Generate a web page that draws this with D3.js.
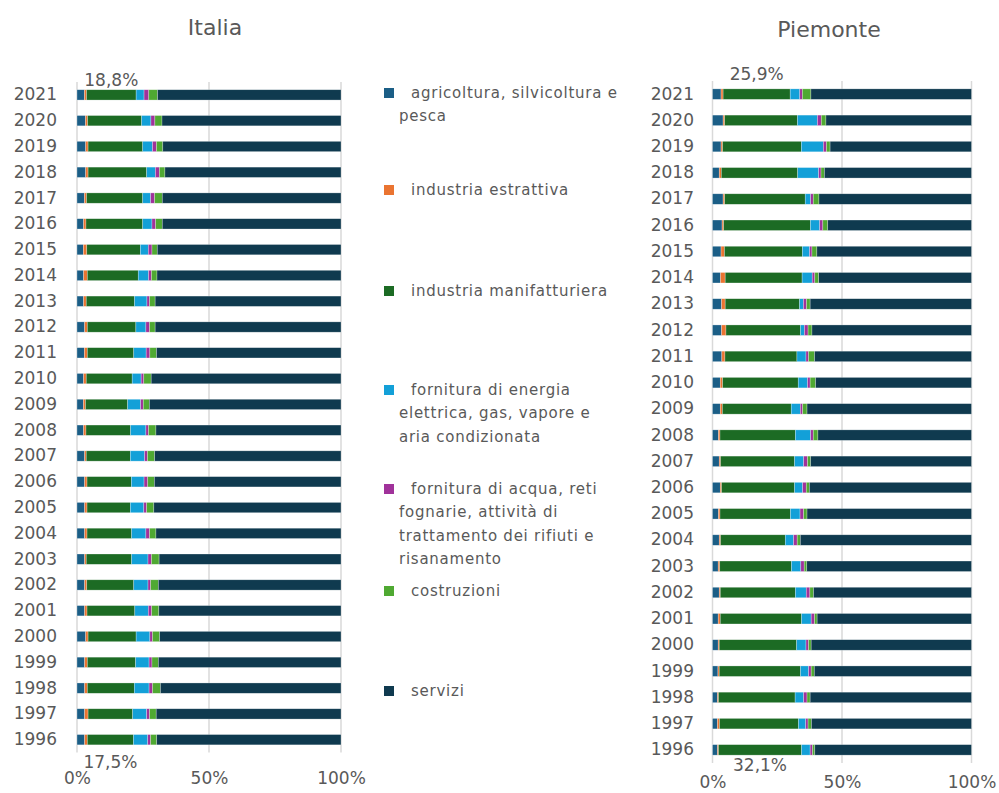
<!DOCTYPE html>
<html>
<head>
<meta charset="utf-8">
<script src="https://cdn.jsdelivr.net/npm/d3@7"></script>
<style>
  html, body { margin: 0; padding: 0; background: #fff; }
  svg { display: block; font-family: "DejaVu Sans", sans-serif; }
</style>
</head>
<body>
<svg id="chart" width="999" height="793"></svg>
<script>
// Value added by sector, share of total (%), 1996-2021
const years = [1996,1997,1998,1999,2000,2001,2002,2003,2004,2005,2006,2007,2008,
               2009,2010,2011,2012,2013,2014,2015,2016,2017,2018,2019,2020,2021];

const sectorNames = [
  "agricoltura, silvicoltura e pesca",
  "industria estrattiva",
  "industria manifatturiera",
  "fornitura di energia elettrica, gas, vapore e aria condizionata",
  "fornitura di acqua, reti fognarie, attività di trattamento dei rifiuti e risanamento",
  "costruzioni",
  "servizi"
];
const sectorColors = ["#1b5e86", "#ea7431", "#1c6b24", "#13a0d8", "#a0329a", "#4fa932", "#0f3a4f"];

// Italia
const itaAgri   = [2.9,2.9,2.9,2.9,3.3,2.9,2.9,2.9,2.9,2.9,2.9,2.9,2.5,2.4,2.5,2.8,2.9,2.5,2.5,2.4,2.5,2.8,3.3,3.3,3.2,2.8];
const itaEstr   = [1.0,1.3,1.0,1.0,0.9,0.9,0.8,0.6,0.9,0.9,0.9,0.6,0.9,0.8,1.0,1.1,1.0,1.0,1.4,1.3,0.9,0.8,0.9,0.9,0.8,0.8];
const itaManif  = [17.5,16.9,17.8,18.3,18.2,18.1,17.8,17.2,16.9,16.4,16.8,16.7,16.9,16.0,17.4,17.6,18.4,18.3,19.3,20.3,21.5,21.3,22.2,20.7,20.5,18.8];
const itaEnerg  = [5.4,5.3,5.6,5.1,5.2,5.1,5.4,6.2,5.4,5.1,4.8,5.4,5.8,4.9,3.4,4.7,3.8,4.7,3.9,3.0,3.5,3.0,3.3,3.7,3.5,3.0];
const itaAcqua  = [1.1,1.1,1.3,1.1,1.0,1.3,1.0,1.3,1.4,1.1,1.4,1.1,1.0,1.0,1.0,1.4,1.4,1.0,1.1,1.4,1.4,1.5,1.5,1.5,1.5,1.8];
const itaCostr  = [2.3,2.5,3.0,2.4,2.7,2.7,2.9,2.9,2.4,2.7,2.5,2.7,2.8,2.3,2.8,2.5,2.1,2.1,2.1,2.0,2.5,2.9,2.1,2.4,2.7,3.3];
const itaServ   = [69.8,70.0,68.4,69.2,68.7,69.0,69.2,68.9,70.1,70.9,70.7,70.6,70.1,72.6,71.9,69.9,70.4,70.4,69.7,69.6,67.7,67.7,66.7,67.5,67.8,69.5];

// Piemonte
const pieAgri   = [1.9,1.9,1.9,2.1,2.2,2.2,2.6,2.2,2.6,2.3,3.0,2.6,2.3,3.0,3.0,3.6,3.5,3.5,3.1,3.3,3.7,4.1,2.6,3.3,4.1,3.3];
const pieEstr   = [0.4,0.8,0.4,0.5,0.4,0.8,0.4,0.6,0.5,0.6,0.5,0.5,0.6,0.8,0.9,1.2,1.7,1.4,1.8,1.3,0.6,0.6,0.8,0.6,0.6,0.8];
const pieManif  = [32.1,30.5,29.6,31.4,29.9,31.4,29.0,27.7,25.0,27.2,28.2,28.6,29.1,26.6,29.2,27.8,28.8,28.7,29.7,30.1,33.5,31.1,29.5,30.4,28.1,25.9];
const pieEnerg  = [3.3,2.8,3.3,3.1,3.6,3.7,4.2,3.6,3.2,3.7,3.1,3.5,5.9,3.5,3.6,3.5,1.5,1.5,3.9,2.8,3.6,2.1,8.1,8.5,7.7,3.7];
const pieAcqua  = [0.9,0.9,1.3,1.0,1.0,1.3,1.4,1.3,1.4,1.4,1.4,1.5,1.0,0.9,1.0,1.0,1.4,1.2,1.0,0.9,1.2,1.0,0.9,1.2,1.5,1.0];
const pieCostr  = [0.9,1.3,1.2,1.2,1.0,1.0,1.4,1.0,1.2,1.3,1.2,1.2,1.8,1.7,2.1,2.3,1.5,1.4,1.5,1.9,1.9,2.2,1.3,1.4,1.8,3.3];
const pieServ   = [60.5,61.8,62.3,60.7,61.9,59.6,61.0,63.6,66.1,63.5,62.6,62.1,59.3,63.5,60.2,60.6,61.6,62.3,59.0,59.7,55.5,58.9,56.8,54.6,56.2,62.0];

const xTicks = [0, 50, 100];

const keys = ["agri", "estr", "manif", "energ", "acqua", "costr", "serv"];

function buildRows(series) {
  return years.map((y, i) => {
    const row = { year: y };
    keys.forEach((k, j) => { row[k] = series[j][i]; });
    return row;
  });
}

const italia = buildRows([itaAgri, itaEstr, itaManif, itaEnerg, itaAcqua, itaCostr, itaServ]);
const piemonte = buildRows([pieAgri, pieEstr, pieManif, pieEnerg, pieAcqua, pieCostr, pieServ]);

const svg = d3.select("#chart");
const textColor = "#595959";
const fmtPct = v => d3.format(".1f")(v).replace(".", ",") + "%";

function drawPanel(opts) {
  const { rows, title, x0, x1, y0, y1, titleX, titleY, yearX, tickY, topLabelY, bottomLabelY } = opts;

  const x = d3.scaleLinear().domain([0, 100]).range([x0, x1]);
  const y = d3.scaleBand()
    .domain(years.slice().reverse())
    .range([y0, y1])
    .paddingInner(0.6)
    .paddingOuter(0.3);

  const g = svg.append("g");

  // vertical gridlines
  g.append("g")
    .selectAll("line")
    .data(xTicks)
    .join("line")
    .attr("x1", d => x(d)).attr("x2", d => x(d))
    .attr("y1", y0).attr("y2", y1)
    .attr("stroke", "#d9d9d9")
    .attr("stroke-width", 1.5);

  // stacked bars
  const stack = d3.stack().keys(keys);
  const layers = stack(rows);

  g.append("g")
    .selectAll("g")
    .data(layers)
    .join("g")
    .attr("fill", (d, i) => sectorColors[i])
    .selectAll("rect")
    .data(d => d)
    .join("rect")
    .attr("x", d => x(d[0]))
    .attr("width", d => x(d[1]) - x(d[0]))
    .attr("y", d => y(d.data.year))
    .attr("height", y.bandwidth())
    .attr("stroke", "#ffffff")
    .attr("stroke-opacity", 0.45)
    .attr("stroke-width", 0.6);

  // year labels
  const yAxis = d3.axisLeft(y).tickSize(0).tickPadding(0);
  const ya = g.append("g")
    .attr("transform", `translate(${yearX},0)`)
    .call(yAxis);
  ya.select(".domain").remove();
  ya.selectAll("text")
    .attr("fill", textColor)
    .attr("font-size", 17)
    .attr("font-family", "DejaVu Sans, sans-serif");

  // percentage axis
  const xAxis = d3.axisBottom(x).tickValues(xTicks).tickSize(0).tickPadding(0)
    .tickFormat(d => d + "%");
  const xa = g.append("g")
    .attr("transform", `translate(0,${tickY})`)
    .call(xAxis);
  xa.select(".domain").remove();
  xa.selectAll("text")
    .attr("dy", 0)
    .attr("fill", textColor)
    .attr("font-size", 17)
    .attr("font-family", "DejaVu Sans, sans-serif");

  // manufacturing share labels on first and last year
  const manLayer = layers[2];
  const last = manLayer.find(d => d.data.year === years[years.length - 1]);
  const first = manLayer.find(d => d.data.year === years[0]);
  g.append("text")
    .attr("x", x((last[0] + last[1]) / 2))
    .attr("y", topLabelY)
    .attr("text-anchor", "middle")
    .attr("fill", textColor)
    .attr("font-size", 17)
    .text(fmtPct(last.data.manif));
  g.append("text")
    .attr("x", x((first[0] + first[1]) / 2))
    .attr("y", bottomLabelY)
    .attr("text-anchor", "middle")
    .attr("fill", textColor)
    .attr("font-size", 17)
    .text(fmtPct(first.data.manif));

  // title
  g.append("text")
    .attr("x", titleX)
    .attr("y", titleY)
    .attr("text-anchor", "middle")
    .attr("fill", textColor)
    .attr("font-size", 22)
    .text(title);
}

drawPanel({
  rows: italia, title: "Italia",
  x0: 77, x1: 341, y0: 82, y1: 752.6,
  titleX: 215, titleY: 35, yearX: 57, tickY: 784,
  topLabelY: 86, bottomLabelY: 768
});

drawPanel({
  rows: piemonte, title: "Piemonte",
  x0: 712.5, x1: 971.5, y0: 81, y1: 763,
  titleX: 829, titleY: 37, yearX: 694, tickY: 788,
  topLabelY: 80, bottomLabelY: 771
});

// legend
const legendItems = [
  { lines: ["agricoltura, silvicoltura e", "pesca"], y: 93 },
  { lines: ["industria estrattiva"], y: 190 },
  { lines: ["industria manifatturiera"], y: 291 },
  { lines: ["fornitura di energia", "elettrica, gas, vapore e", "aria condizionata"], y: 390 },
  { lines: ["fornitura di acqua, reti", "fognarie, attività di", "trattamento dei rifiuti e", "risanamento"], y: 489 },
  { lines: ["costruzioni"], y: 591 },
  { lines: ["servizi"], y: 691 }
];

const legend = svg.append("g");
legendItems.forEach((item, i) => {
  const gi = legend.append("g").attr("transform", `translate(0,${item.y})`);
  gi.append("rect")
    .attr("x", 384).attr("y", -5)
    .attr("width", 10).attr("height", 10)
    .attr("fill", sectorColors[i]);
  const t = gi.append("text")
    .attr("fill", textColor)
    .attr("font-size", 15)
    .attr("letter-spacing", 0.75)
    .attr("dominant-baseline", "central");
  item.lines.forEach((ln, j) => {
    t.append("tspan")
      .attr("x", j === 0 ? 411 : 399)
      .attr("y", j * 23.3)
      .text(ln);
  });
});
</script>
</body>
</html>
